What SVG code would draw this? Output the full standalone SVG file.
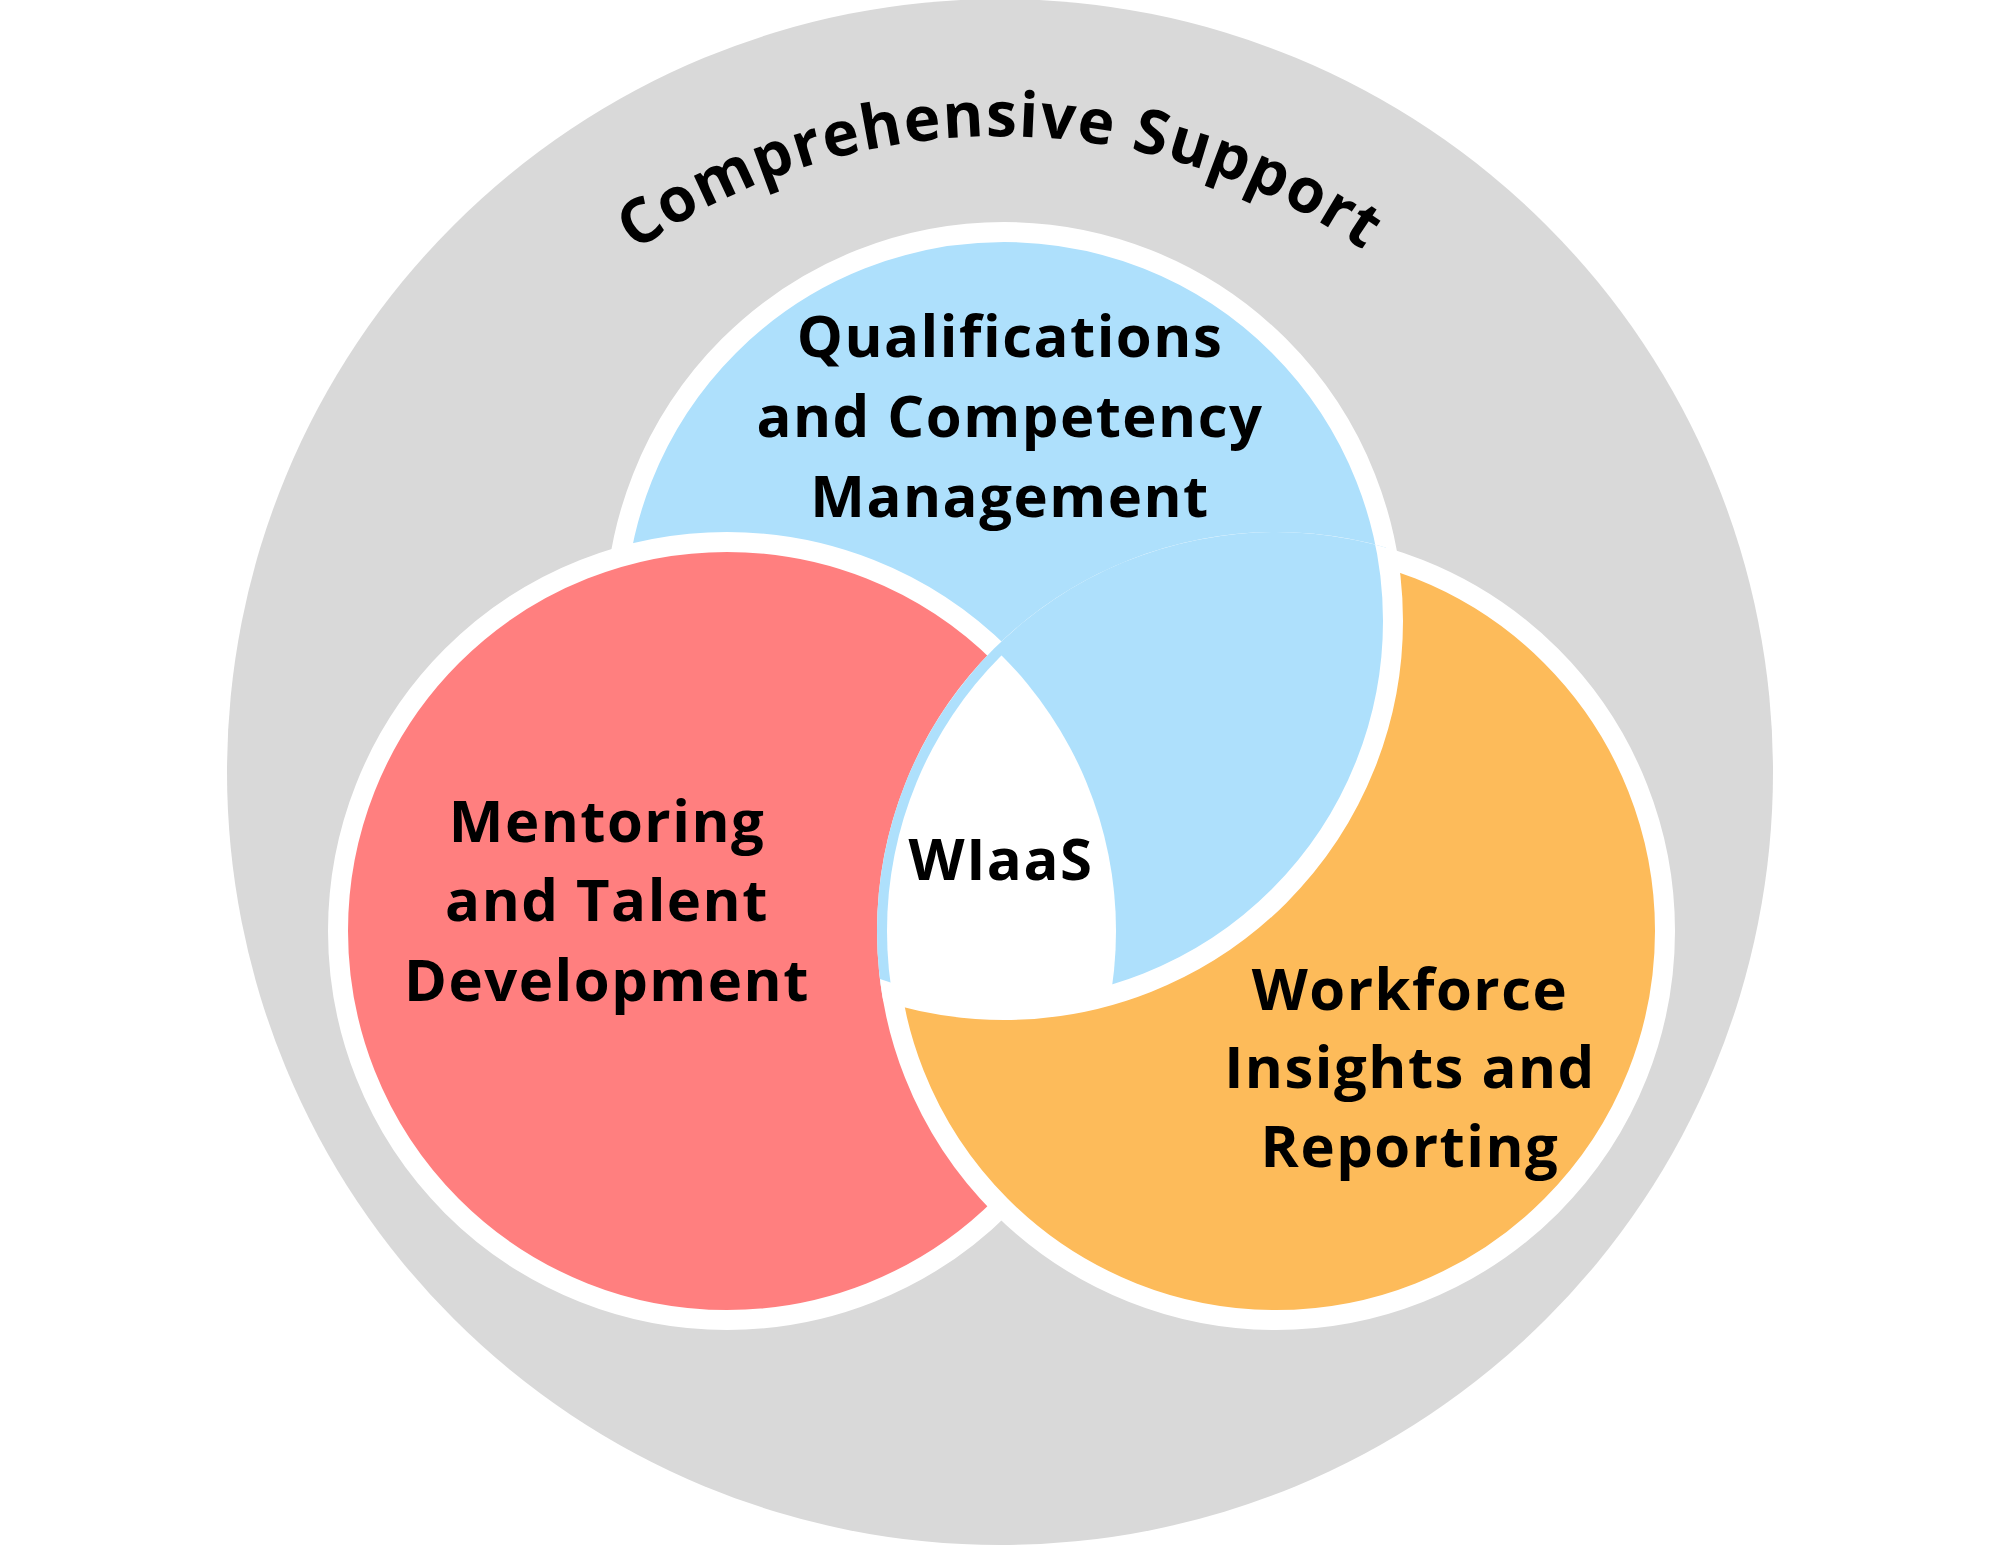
<svg xmlns="http://www.w3.org/2000/svg" width="2000" height="1545" viewBox="0 0 2000 1545">
<style>
.c{stroke:#fff;stroke-width:20}
.t{font-family:"Open Sans","Liberation Sans",sans-serif;font-weight:700;font-size:58px;fill:#000;text-anchor:middle;letter-spacing:1.5px}
</style>
<defs>
<clipPath id="cpO"><circle cx="1276" cy="931" r="399"/></clipPath>
<clipPath id="cpOi"><circle cx="1276" cy="931" r="389"/></clipPath>
<clipPath id="cpB"><circle cx="1004" cy="621" r="389"/></clipPath>
<path id="arc" d="M 364 772 A 636 636 0 0 1 1636 772"/>
</defs>
<rect width="2000" height="1545" fill="#fff"/>
<g id="outer">
<circle cx="1000" cy="772" r="773" fill="#d9d9d9"/>
<text class="t" style="font-size:62px"><textPath href="#arc" startOffset="50%">Comprehensive Support</textPath></text>
</g>
<g id="blue"><circle class="c" cx="1004" cy="621" r="389" fill="#aee0fc"/></g>
<g id="red"><circle class="c" cx="727" cy="931" r="389" fill="#ff7f7f"/></g>
<g id="orange"><circle class="c" cx="1276" cy="931" r="389" fill="#fdbb5a"/></g>
<g id="blue-over" clip-path="url(#cpO)"><circle class="c" cx="1004" cy="621" r="389" fill="#aee0fc"/></g>
<g id="center" clip-path="url(#cpOi)"><g clip-path="url(#cpB)"><circle cx="727" cy="931" r="389" fill="#fff"/></g></g>
<g id="labels">
<text class="t"><tspan x="1010" y="357">Qualifications</tspan><tspan x="1010" y="437">and Competency</tspan><tspan x="1010" y="517">Management</tspan></text>
<text class="t"><tspan x="607" y="842">Mentoring</tspan><tspan x="607" y="921">and Talent</tspan><tspan x="607" y="1001">Development</tspan></text>
<text class="t" x="1001" y="880">WIaaS</text>
<text class="t"><tspan x="1410" y="1010">Workforce</tspan><tspan x="1410" y="1088">Insights and</tspan><tspan x="1410" y="1167">Reporting</tspan></text>
</g>
</svg>
